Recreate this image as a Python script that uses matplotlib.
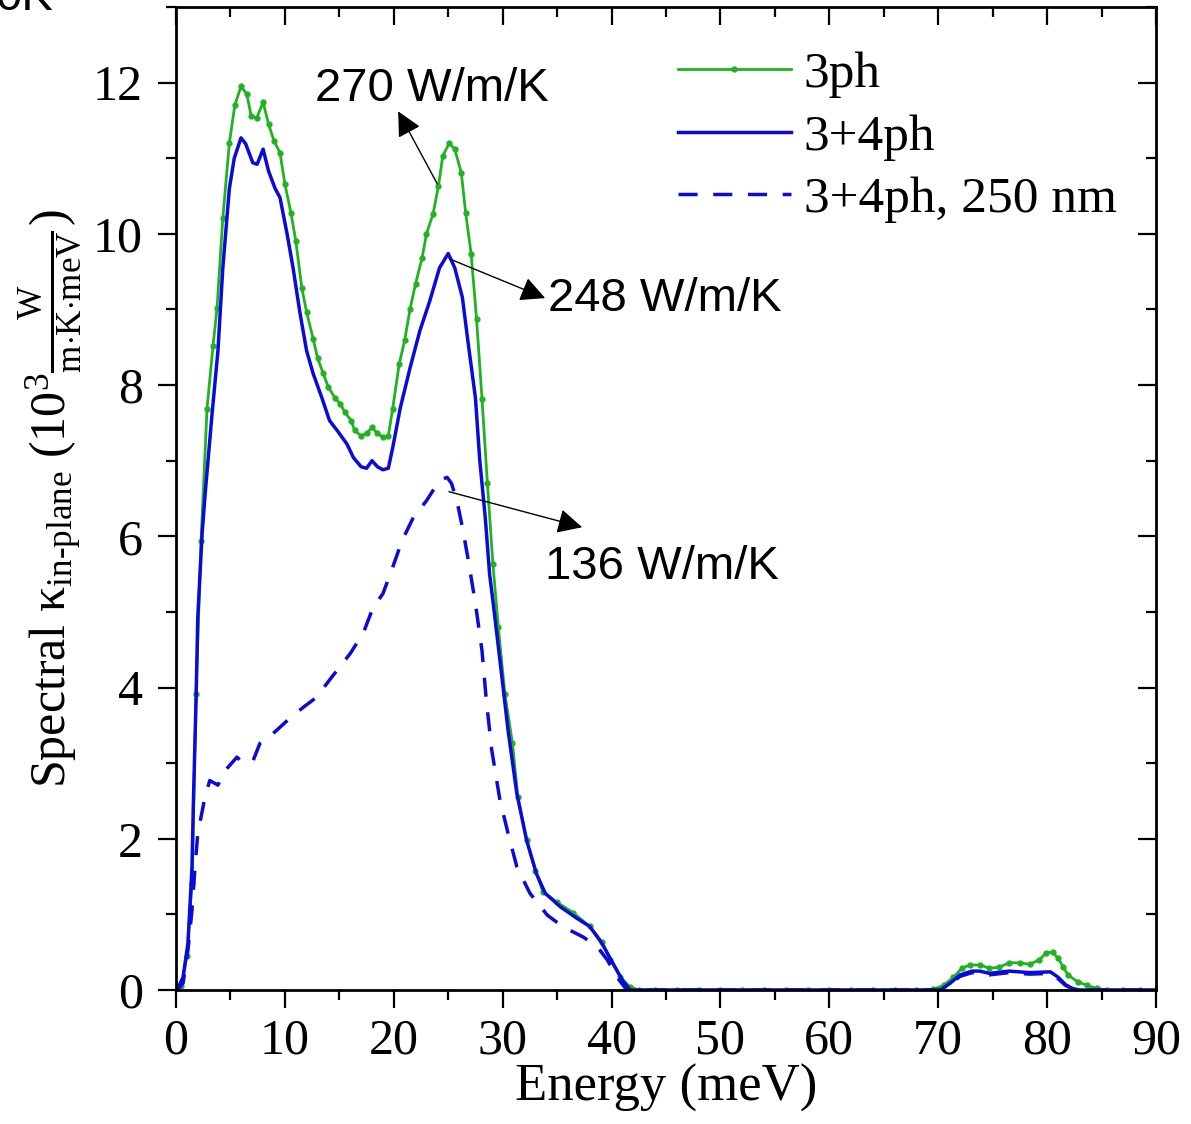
import numpy as np
import matplotlib
matplotlib.use('Agg')
import matplotlib.pyplot as plt
from matplotlib.ticker import MultipleLocator

plt.rcParams['font.family'] = ['Liberation Serif', 'DejaVu Serif']
plt.rcParams['mathtext.fontset'] = 'custom'
plt.rcParams['mathtext.rm'] = 'Liberation Serif'
plt.rcParams['mathtext.it'] = 'Liberation Serif:italic'

# spectral conductivity, 3ph (green, dotted markers)
e_3ph = [0, 0.5, 1.0, 1.47, 1.84, 2.3, 2.85, 3.4, 3.77, 4.3, 4.9, 5.4, 5.97, 6.5, 6.9,
         7.4, 8.0, 8.5, 9.0, 9.55, 10.0, 10.55, 11.0, 11.55, 12.0, 12.6, 13.0, 13.5,
         14.0, 14.6, 15.1, 15.5, 16.1, 16.4, 17.0, 17.5, 18.0, 18.5, 19.0, 19.5, 19.9,
         20.5, 21.0, 21.5, 22.0, 22.6, 23.0, 23.6, 24.1, 24.5, 25.1, 25.6, 26.2, 26.6,
         27.1, 27.6, 28.1, 28.6, 29.1, 29.6, 30.2, 30.9, 31.4, 32.2, 33.0, 33.7, 35.0,
         36.5, 38.0, 39.1, 39.9, 40.8, 41.7, 42.5, 44, 46, 48, 50, 52, 54, 56, 58, 60,
         62, 64, 66, 68, 69.5, 70.5, 71.4, 72.2, 72.9, 73.8, 74.7, 75.6, 76.5, 77.5,
         78.4, 79.3, 79.9, 80.5, 81.0, 81.5, 81.9, 82.8, 83.7, 84.6, 85.5, 87, 88.5, 90]
k_3ph = [0, 0.05, 0.45, 1.41, 3.92, 5.94, 7.69, 8.52, 9.02, 10.21, 11.2, 11.7, 11.95,
         11.85, 11.56, 11.53, 11.74, 11.45, 11.23, 11.07, 10.66, 10.28, 9.91, 9.29, 8.96,
         8.61, 8.36, 8.16, 7.97, 7.83, 7.75, 7.64, 7.53, 7.40, 7.33, 7.36, 7.44, 7.36,
         7.31, 7.33, 7.69, 8.28, 8.59, 9.01, 9.34, 9.68, 10.0, 10.26, 10.63, 11.03, 11.2,
         11.12, 10.81, 10.28, 9.74, 8.88, 7.82, 6.7, 5.64, 4.8, 3.92, 3.26, 2.55, 1.98,
         1.58, 1.3, 1.16, 1.02, 0.84, 0.64, 0.4, 0.17, 0.04, 0, 0, 0, 0, 0, 0, 0, 0, 0,
         0, 0, 0, 0, 0, 0.01, 0.06, 0.17, 0.29, 0.33, 0.33, 0.29, 0.30, 0.36, 0.36, 0.34,
         0.40, 0.49, 0.50, 0.42, 0.30, 0.20, 0.11, 0.06, 0.02, 0, 0, 0, 0]

# 3+4ph (blue solid)
e_34ph = [0, 0.1, 0.65, 1.1, 1.47, 1.6, 1.84, 2.0, 2.4, 2.7, 3.3, 3.85, 4.3, 4.9, 5.35,
          5.97, 6.4, 7.05, 7.45, 8.0, 8.5, 9.1, 9.55, 10.2, 10.75, 11.4, 12.0, 12.6, 13.4,
          14.1, 14.8, 15.7, 16.3, 17.0, 17.5, 18.0, 18.5, 19.0, 19.5, 19.9, 20.6, 21.5,
          22.4, 23.3, 24.2, 25.0, 25.6, 26.3, 26.8, 27.5, 27.9, 28.4, 28.8, 29.1, 29.75,
          30.5, 31.3, 32.2, 33.1, 33.9, 35.3, 36.8, 38.0, 39.1, 40.1, 41.0, 41.7, 70.2,
          71.1, 72.0, 73.1, 73.8, 74.7, 76.5, 78.4, 80.3, 81.0, 81.7, 82.3, 83.0, 90]
k_34ph = [0, 0, 0.17, 0.62, 1.63, 2.5, 3.83, 4.93, 6.04, 6.6, 7.6, 8.45, 9.55, 10.6, 11.0,
          11.27, 11.19, 10.94, 10.92, 11.12, 10.83, 10.6, 10.48, 10.0, 9.55, 8.94, 8.45,
          8.15, 7.83, 7.53, 7.40, 7.22, 7.04, 6.92, 6.9, 7.0, 6.92, 6.88, 6.9, 7.17, 7.7,
          8.23, 8.72, 9.11, 9.55, 9.74, 9.55, 9.16, 8.59, 7.83, 7.0, 6.25, 5.5, 5.15, 4.36,
          3.43, 2.6, 1.98, 1.54, 1.28, 1.1, 0.95, 0.84, 0.62, 0.36, 0.13, 0, 0, 0.09, 0.2,
          0.25, 0.25, 0.22, 0.25, 0.23, 0.24, 0.17, 0.07, 0.02, 0, 0]

# 3+4ph, 250 nm (blue dashed)
e_250 = [0, 0.1, 0.65, 1.1, 1.47, 1.75, 2.0, 2.66, 3.1, 3.85, 4.5, 5.6, 6.15, 7.1, 7.7,
         8.9, 10.5, 11.7, 12.9, 14.1, 16.0, 17.2, 18.1, 19.0, 19.9, 20.75, 21.8, 23.0,
         24.2, 24.9, 25.3, 25.8, 26.3, 26.8, 27.5, 28.1, 28.5, 29.0, 29.75, 30.5, 31.3,
         32.5, 34.1, 35.5, 37.4, 38.7, 39.6, 40.5, 41.4, 70.2, 71.1, 72.0, 73.1, 73.8,
         74.7, 76.5, 78.4, 80.3, 81.0, 81.7, 82.3, 83.0, 90]
k_250 = [0, 0, 0.09, 0.53, 1.06, 1.63, 2.07, 2.55, 2.77, 2.71, 2.9, 3.08, 3.0, 3.04, 3.26,
         3.39, 3.6, 3.74, 3.87, 4.1, 4.45, 4.72, 5.06, 5.24, 5.59, 5.94, 6.25, 6.47, 6.74,
         6.78, 6.7, 6.47, 6.12, 5.72, 5.11, 4.49, 3.83, 3.17, 2.51, 2.07, 1.63, 1.28, 0.99,
         0.84, 0.7, 0.57, 0.4, 0.17, 0, 0, 0.08, 0.18, 0.23, 0.23, 0.2, 0.23, 0.21, 0.22,
         0.15, 0.06, 0.02, 0, 0]

labels = ['3ph', '3+4ph', '3+4ph, 250 nm']
notes = ['270 W/m/K', '248 W/m/K', '136 W/m/K']

green = '#1fb41f'
blue = '#0a0adc'

fig = plt.figure(figsize=(11.91, 11.24), dpi=100)
ax = fig.add_axes([176/1191, 1-990/1124, 980/1191, 983/1124])

ax.plot(e_3ph, k_3ph, color=green, lw=2.0, marker='o', ms=3.5, label=labels[0])
ax.plot(e_34ph, k_34ph, color=blue, lw=2.5, label=labels[1])
ax.plot(e_250, k_250, color=blue, lw=2.5, ls=(0, (5.5, 4.5)), label=labels[2])

ax.set_xlim(0, 90)
ax.set_ylim(0, 13)
ax.xaxis.set_major_locator(MultipleLocator(10))
ax.xaxis.set_minor_locator(MultipleLocator(5))
ax.yaxis.set_major_locator(MultipleLocator(2))
ax.yaxis.set_minor_locator(MultipleLocator(1))
ax.tick_params(which='major', direction='out', length=13, width=1.6, labelsize=36, pad=7)
ax.tick_params(which='minor', direction='out', length=7, width=1.6)
ax.tick_params(axis='y', which='major', pad=11)
for s in ax.spines.values():
    s.set_linewidth(2.0)

# top and right ticks point inward
top = ax.secondary_xaxis('top')
top.xaxis.set_major_locator(MultipleLocator(10))
top.xaxis.set_minor_locator(MultipleLocator(5))
top.tick_params(which='major', direction='in', length=13, width=1.6, labeltop=False)
top.tick_params(which='minor', direction='in', length=7, width=1.6)
right = ax.secondary_yaxis('right')
right.yaxis.set_major_locator(MultipleLocator(2))
right.yaxis.set_minor_locator(MultipleLocator(1))
right.tick_params(which='major', direction='in', length=13, width=1.6, labelright=False)
right.tick_params(which='minor', direction='in', length=7, width=1.6)

ax.set_xlabel('Energy (meV)', fontsize=38, labelpad=0)
ax.set_ylabel(r'Spectral $\mathrm{κ}_{\text{in-plane}}$ $(10^3\frac{\mathrm{W}}{\mathrm{m{\cdot}K{\cdot}meV}})$',
              fontsize=36, labelpad=6)

ax.legend(loc='upper left', bbox_to_anchor=(0.512, 0.955), frameon=False, fontsize=37,
          borderpad=0, borderaxespad=0, handlelength=2.2, handletextpad=0.25,
          labelspacing=0.3)

sans = ['Liberation Sans', 'DejaVu Sans']
arrow = dict(arrowstyle='-|>', color='black', lw=1.0, mutation_scale=38,
             shrinkA=0, shrinkB=0)
ax.annotate('', xy=(20.4, 11.62), xytext=(24.0, 10.66), arrowprops=arrow)
ax.annotate('', xy=(33.9, 9.15), xytext=(25.1, 9.67), arrowprops=arrow)
ax.annotate('', xy=(37.3, 6.12), xytext=(25.07, 6.59), arrowprops=arrow)
ax.text(12.76, 11.92, notes[0], fontsize=34, family=sans, va='center', ha='left')
ax.text(34.16, 9.14, notes[1], fontsize=34, family=sans, va='center', ha='left')
ax.text(33.9, 5.6, notes[2], fontsize=34, family=sans, va='center', ha='left')

fig.text(53/1191, 1-10/1124, '0K', fontsize=34, family=sans, ha='right', va='baseline')

fig.savefig('out.png', dpi=100)
